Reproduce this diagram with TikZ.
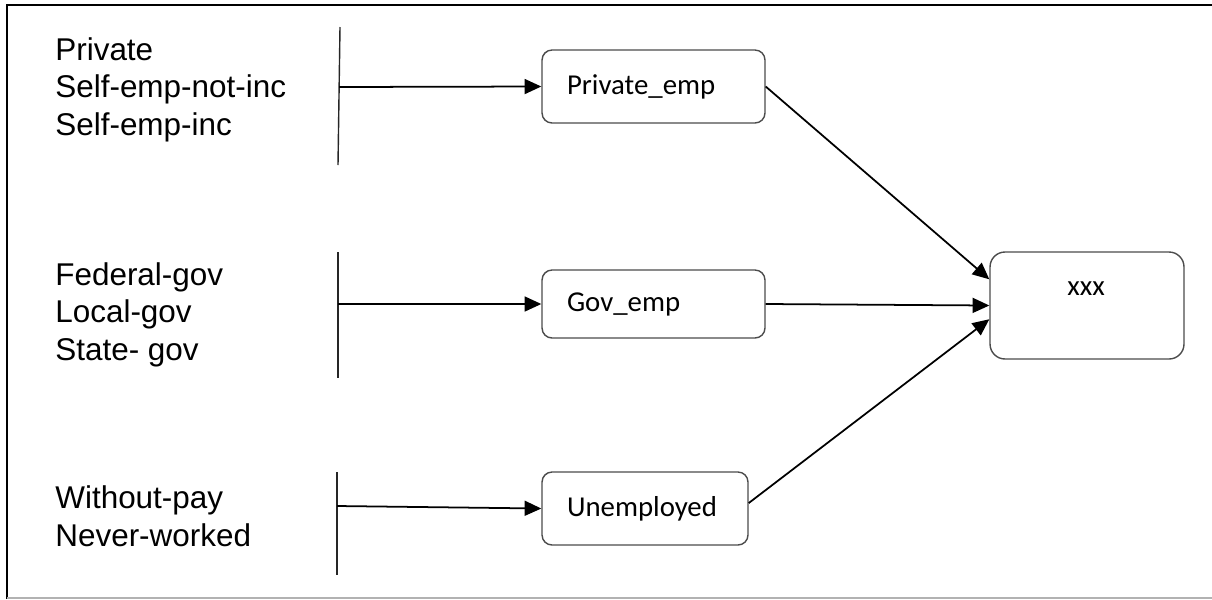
\documentclass[tikz,border=0pt]{standalone}
\usepackage{fontspec}
\setmainfont{Liberation Sans}
\newfontfamily\boxfont{Carlito}
\usepackage{tikz}
\usetikzlibrary{arrows.meta,positioning}
\tikzset{
  class-list/.style={anchor=base west, align=left, inner sep=0pt,
    font=\fontsize{17.9}{21.1}\selectfont},
  class-bar/.style={draw=black!85, line width=0.8pt},
  class-box/.style={draw=black!70, fill=white, rounded corners=5.7pt, line width=0.8pt,
    align=left, inner xsep=0.5cm, font=\boxfont\fontsize{16.4}{19}\selectfont},
  class-link/.style={-{Triangle[length=9.5pt,width=8.5pt]}, line width=1pt}
}

\begin{document}
\begin{tikzpicture}[x=0.02cm, y=-0.02cm]
  \useasboundingbox (0,0) rectangle (1212,599);
  % page frame
  \draw[line width=1.5pt] (1212,5) -- (7,5) -- (7,599);
  \draw[black!30, line width=0.6pt] (7,598) -- (1212,598);

  % raw work classes (anchored on the last line)
  \node[class-list] (grp-private) at (55,135) {Private\\Self-emp-not-inc\\Self-emp-inc};
  \node[class-list] (grp-gov) at (55,360) {Federal-gov\\Local-gov\\State- gov};
  \node[class-list] (grp-none) at (55,546) {Without-pay\\Never-worked};

  % brackets
  \coordinate (bar1-top) at (340,27);
  \coordinate (bar1-bot) at (338,165);
  \coordinate (bar1-mid) at (339,87);
  \coordinate (bar2-top) at (338,252);
  \coordinate (bar2-bot) at (338,378);
  \coordinate (bar2-mid) at (338,304);
  \coordinate (bar3-top) at (337,472);
  \coordinate (bar3-bot) at (337,575);
  \coordinate (bar3-mid) at (337,506);
  \draw[class-bar] (bar1-top) -- (bar1-bot);
  \draw[class-bar] (bar2-top) -- (bar2-bot);
  \draw[class-bar] (bar3-top) -- (bar3-bot);

  % merged classes
  \node[class-box, text width=3.46cm, minimum height=1.46cm] (priv) at (653.5,86.5) {Private\_emp};
  \node[class-box, text width=3.46cm, minimum height=1.36cm] (gov) at (653.5,304) {Gov\_emp};
  \node[class-box, text width=3.12cm, minimum height=1.46cm] (unemp) at (645,508.5) {Unemployed};
  \node[class-box, rounded corners=8.5pt, minimum width=3.88cm, minimum height=2.14cm,
    inner sep=0pt] (out) at (1087,305.5) {};
  \node[font=\boxfont\fontsize{16.4}{19}\selectfont, inner sep=0pt] (out-label) at (1086,289) {xxx};

  \draw[class-link] (bar1-mid) -- (priv.west);
  \draw[class-link] (bar2-mid) -- (gov.west);
  \draw[class-link] (bar3-mid) -- (unemp.west);
  \draw[class-link] (priv.east) -- (out.165);
  \draw[class-link] (gov.east) -- (out.west);
  \draw[class-link] (unemp.3) -- (out.-172);
\end{tikzpicture}
\end{document}
